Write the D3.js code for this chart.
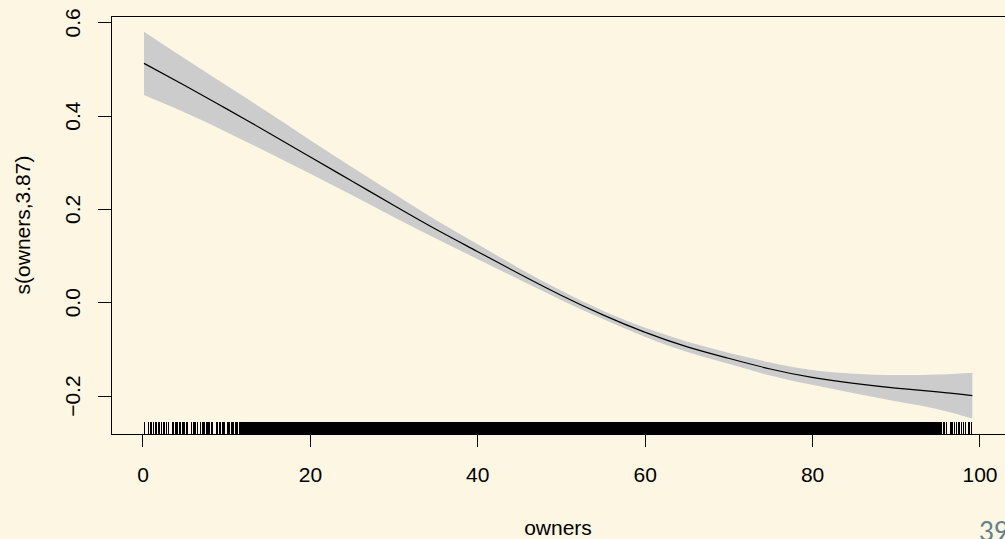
<!DOCTYPE html>
<html>
<head>
<meta charset="utf-8">
<script src="https://cdn.jsdelivr.net/npm/d3@7"></script>
<style>
  html, body { margin: 0; padding: 0; background: #fdf6e3; }
  svg { display: block; }
</style>
</head>
<body>
<svg id="chart" width="1005" height="539"></svg>
<script>
// Smooth term s(owners, 3.87): estimate with its confidence band
const owners = [0.18, 5, 10, 15, 20, 25, 30, 35, 40, 45, 50, 55, 60, 65, 70, 75, 80, 85, 90, 95, 99.15];
const fitValues = [0.512, 0.465, 0.415, 0.364, 0.312, 0.260, 0.208, 0.157, 0.109, 0.061, 0.015, -0.027, -0.064, -0.095, -0.120, -0.143, -0.161, -0.174, -0.184, -0.192, -0.200];
const upperValues = [0.580, 0.523, 0.465, 0.407, 0.348, 0.290, 0.233, 0.177, 0.125, 0.073, 0.025, -0.018, -0.054, -0.084, -0.108, -0.129, -0.145, -0.153, -0.156, -0.155, -0.151];
const lowerValues = [0.444, 0.407, 0.365, 0.321, 0.276, 0.230, 0.183, 0.137, 0.093, 0.049, 0.005, -0.036, -0.074, -0.106, -0.132, -0.157, -0.177, -0.195, -0.212, -0.229, -0.249];

// Observed owners values shown as a rug along the x axis
const rugLow = [0.18, 0.74, 0.90, 1.10, 1.29, 1.53, 1.70, 1.94, 2.09, 2.25, 2.49, 2.66, 2.90, 3.08,
  3.61, 3.76, 3.92, 4.09, 4.24, 4.40, 4.56, 4.72, 4.88, 5.04, 5.20, 5.35,
  5.91, 6.07, 6.24, 6.39, 6.55, 6.95, 7.11, 7.26, 7.43, 7.59, 7.74, 7.91, 8.06, 8.22, 8.39,
  8.86, 9.02, 9.18, 9.34, 9.50, 9.65, 9.82, 10.13, 10.30, 10.45, 10.61, 10.78, 10.93, 11.09, 11.25, 11.41];
const rugMid = [
11.6,11.7,11.8,11.9,
12.0,12.1,12.2,12.3,12.4,12.5,12.6,12.7,12.8,12.9,
13.0,13.1,13.2,13.3,13.4,13.5,13.6,13.7,13.8,13.9,
14.0,14.1,14.2,14.3,14.4,14.5,14.6,14.7,14.8,14.9,
15.0,15.1,15.2,15.3,15.4,15.5,15.6,15.7,15.8,15.9,
16.0,16.1,16.2,16.3,16.4,16.5,16.6,16.7,16.8,16.9,
17.0,17.1,17.2,17.3,17.4,17.5,17.6,17.7,17.8,17.9,
18.0,18.1,18.2,18.3,18.4,18.5,18.6,18.7,18.8,18.9,
19.0,19.1,19.2,19.3,19.4,19.5,19.6,19.7,19.8,19.9,
20.0,20.1,20.2,20.3,20.4,20.5,20.6,20.7,20.8,20.9,
21.0,21.1,21.2,21.3,21.4,21.5,21.6,21.7,21.8,21.9,
22.0,22.1,22.2,22.3,22.4,22.5,22.6,22.7,22.8,22.9,
23.0,23.1,23.2,23.3,23.4,23.5,23.6,23.7,23.8,23.9,
24.0,24.1,24.2,24.3,24.4,24.5,24.6,24.7,24.8,24.9,
25.0,25.1,25.2,25.3,25.4,25.5,25.6,25.7,25.8,25.9,
26.0,26.1,26.2,26.3,26.4,26.5,26.6,26.7,26.8,26.9,
27.0,27.1,27.2,27.3,27.4,27.5,27.6,27.7,27.8,27.9,
28.0,28.1,28.2,28.3,28.4,28.5,28.6,28.7,28.8,28.9,
29.0,29.1,29.2,29.3,29.4,29.5,29.6,29.7,29.8,29.9,
30.0,30.1,30.2,30.3,30.4,30.5,30.6,30.7,30.8,30.9,
31.0,31.1,31.2,31.3,31.4,31.5,31.6,31.7,31.8,31.9,
32.0,32.1,32.2,32.3,32.4,32.5,32.6,32.7,32.8,32.9,
33.0,33.1,33.2,33.3,33.4,33.5,33.6,33.7,33.8,33.9,
34.0,34.1,34.2,34.3,34.4,34.5,34.6,34.7,34.8,34.9,
35.0,35.1,35.2,35.3,35.4,35.5,35.6,35.7,35.8,35.9,
36.0,36.1,36.2,36.3,36.4,36.5,36.6,36.7,36.8,36.9,
37.0,37.1,37.2,37.3,37.4,37.5,37.6,37.7,37.8,37.9,
38.0,38.1,38.2,38.3,38.4,38.5,38.6,38.7,38.8,38.9,
39.0,39.1,39.2,39.3,39.4,39.5,39.6,39.7,39.8,39.9,
40.0,40.1,40.2,40.3,40.4,40.5,40.6,40.7,40.8,40.9,
41.0,41.1,41.2,41.3,41.4,41.5,41.6,41.7,41.8,41.9,
42.0,42.1,42.2,42.3,42.4,42.5,42.6,42.7,42.8,42.9,
43.0,43.1,43.2,43.3,43.4,43.5,43.6,43.7,43.8,43.9,
44.0,44.1,44.2,44.3,44.4,44.5,44.6,44.7,44.8,44.9,
45.0,45.1,45.2,45.3,45.4,45.5,45.6,45.7,45.8,45.9,
46.0,46.1,46.2,46.3,46.4,46.5,46.6,46.7,46.8,46.9,
47.0,47.1,47.2,47.3,47.4,47.5,47.6,47.7,47.8,47.9,
48.0,48.1,48.2,48.3,48.4,48.5,48.6,48.7,48.8,48.9,
49.0,49.1,49.2,49.3,49.4,49.5,49.6,49.7,49.8,49.9,
50.0,50.1,50.2,50.3,50.4,50.5,50.6,50.7,50.8,50.9,
51.0,51.1,51.2,51.3,51.4,51.5,51.6,51.7,51.8,51.9,
52.0,52.1,52.2,52.3,52.4,52.5,52.6,52.7,52.8,52.9,
53.0,53.1,53.2,53.3,53.4,53.5,53.6,53.7,53.8,53.9,
54.0,54.1,54.2,54.3,54.4,54.5,54.6,54.7,54.8,54.9,
55.0,55.1,55.2,55.3,55.4,55.5,55.6,55.7,55.8,55.9,
56.0,56.1,56.2,56.3,56.4,56.5,56.6,56.7,56.8,56.9,
57.0,57.1,57.2,57.3,57.4,57.5,57.6,57.7,57.8,57.9,
58.0,58.1,58.2,58.3,58.4,58.5,58.6,58.7,58.8,58.9,
59.0,59.1,59.2,59.3,59.4,59.5,59.6,59.7,59.8,59.9,
60.0,60.1,60.2,60.3,60.4,60.5,60.6,60.7,60.8,60.9,
61.0,61.1,61.2,61.3,61.4,61.5,61.6,61.7,61.8,61.9,
62.0,62.1,62.2,62.3,62.4,62.5,62.6,62.7,62.8,62.9,
63.0,63.1,63.2,63.3,63.4,63.5,63.6,63.7,63.8,63.9,
64.0,64.1,64.2,64.3,64.4,64.5,64.6,64.7,64.8,64.9,
65.0,65.1,65.2,65.3,65.4,65.5,65.6,65.7,65.8,65.9,
66.0,66.1,66.2,66.3,66.4,66.5,66.6,66.7,66.8,66.9,
67.0,67.1,67.2,67.3,67.4,67.5,67.6,67.7,67.8,67.9,
68.0,68.1,68.2,68.3,68.4,68.5,68.6,68.7,68.8,68.9,
69.0,69.1,69.2,69.3,69.4,69.5,69.6,69.7,69.8,69.9,
70.0,70.1,70.2,70.3,70.4,70.5,70.6,70.7,70.8,70.9,
71.0,71.1,71.2,71.3,71.4,71.5,71.6,71.7,71.8,71.9,
72.0,72.1,72.2,72.3,72.4,72.5,72.6,72.7,72.8,72.9,
73.0,73.1,73.2,73.3,73.4,73.5,73.6,73.7,73.8,73.9,
74.0,74.1,74.2,74.3,74.4,74.5,74.6,74.7,74.8,74.9,
75.0,75.1,75.2,75.3,75.4,75.5,75.6,75.7,75.8,75.9,
76.0,76.1,76.2,76.3,76.4,76.5,76.6,76.7,76.8,76.9,
77.0,77.1,77.2,77.3,77.4,77.5,77.6,77.7,77.8,77.9,
78.0,78.1,78.2,78.3,78.4,78.5,78.6,78.7,78.8,78.9,
79.0,79.1,79.2,79.3,79.4,79.5,79.6,79.7,79.8,79.9,
80.0,80.1,80.2,80.3,80.4,80.5,80.6,80.7,80.8,80.9,
81.0,81.1,81.2,81.3,81.4,81.5,81.6,81.7,81.8,81.9,
82.0,82.1,82.2,82.3,82.4,82.5,82.6,82.7,82.8,82.9,
83.0,83.1,83.2,83.3,83.4,83.5,83.6,83.7,83.8,83.9,
84.0,84.1,84.2,84.3,84.4,84.5,84.6,84.7,84.8,84.9,
85.0,85.1,85.2,85.3,85.4,85.5,85.6,85.7,85.8,85.9,
86.0,86.1,86.2,86.3,86.4,86.5,86.6,86.7,86.8,86.9,
87.0,87.1,87.2,87.3,87.4,87.5,87.6,87.7,87.8,87.9,
88.0,88.1,88.2,88.3,88.4,88.5,88.6,88.7,88.8,88.9,
89.0,89.1,89.2,89.3,89.4,89.5,89.6,89.7,89.8,89.9,
90.0,90.1,90.2,90.3,90.4,90.5,90.6,90.7,90.8,90.9,
91.0,91.1,91.2,91.3,91.4,91.5,91.6,91.7,91.8,91.9,
92.0,92.1,92.2,92.3,92.4,92.5,92.6,92.7,92.8,92.9,
93.0,93.1,93.2,93.3,93.4,93.5,93.6,93.7,93.8,93.9,
94.0,94.1,94.2,94.3,94.4,94.5,94.6,94.7,94.8,94.9,
95.0,95.1,95.2,95.3];
const rugHigh = [95.48, 95.68, 95.88, 96.08, 96.48, 96.63, 96.80, 97.04, 97.28, 97.51, 97.67, 97.91, 98.15, 98.39, 98.63, 98.86, 99.07];

const xTicks = [0, 20, 40, 60, 80, 100];
const yTicks = [-0.2, 0.0, 0.2, 0.4, 0.6];
const xLabel = "owners";
const yLabel = "s(owners,3.87)";
const pageNumber = "39";

const svg = d3.select("#chart");
const W = 1005, H = 539;
const FONT = "'Liberation Sans', Arial, Helvetica, sans-serif";

svg.append("rect").attr("width", W).attr("height", H).attr("fill", "#fdf6e3");

// Plot region: data range padded by 4% on each side
const x = d3.scaleLinear().domain([-3.763, 103.05]).range([111, 1005]);
const y = d3.scaleLinear().domain([-0.2823, 0.6135]).range([434, 16]);

const curve = owners.map((o, i) => ({ o, fit: fitValues[i], lo: lowerValues[i], hi: upperValues[i] }));

// Confidence band
svg.append("path")
  .datum(curve)
  .attr("fill", "#cccccc")
  .attr("stroke", "none")
  .attr("d", d3.area()
    .x(d => x(d.o))
    .y0(d => y(d.lo))
    .y1(d => y(d.hi))
    .curve(d3.curveNatural));

// Fitted smooth
svg.append("path")
  .datum(curve)
  .attr("fill", "none")
  .attr("stroke", "#000")
  .attr("stroke-width", 1.2)
  .attr("d", d3.line()
    .x(d => x(d.o))
    .y(d => y(d.fit))
    .curve(d3.curveNatural));

// Rug
const rugValues = rugLow.concat(rugMid, rugHigh);
const rugLen = 12.5;
svg.append("g")
  .attr("shape-rendering", "crispEdges")
  .selectAll("line")
  .data(rugValues)
  .join("line")
  .attr("x1", d => x(d)).attr("x2", d => x(d))
  .attr("y1", y.range()[0]).attr("y2", y.range()[0] - rugLen)
  .attr("stroke", "#000")
  .attr("stroke-width", 1);

// Frame around the plot region
svg.append("rect")
  .attr("x", x.range()[0]).attr("y", y.range()[1])
  .attr("width", x.range()[1] - x.range()[0])
  .attr("height", y.range()[0] - y.range()[1])
  .attr("fill", "none")
  .attr("stroke", "#000")
  .attr("stroke-width", 1)
  .attr("shape-rendering", "crispEdges");

// X axis
const gx = svg.append("g")
  .attr("transform", `translate(0,${y.range()[0]})`)
  .call(d3.axisBottom(x).tickValues(xTicks).tickSize(13).tickFormat(d3.format("d")));
gx.select(".domain").remove();
gx.selectAll(".tick line").attr("stroke", "#000").attr("shape-rendering", "crispEdges");
gx.selectAll(".tick text")
  .attr("y", 48).attr("dy", null)
  .attr("fill", "#000")
  .style("font-family", FONT).style("font-size", "21px");

// Y axis with rotated labels
const gy = svg.append("g")
  .attr("transform", `translate(${x.range()[0]},0)`)
  .call(d3.axisLeft(y).tickValues(yTicks).tickSize(13).tickFormat(d3.format(".1f")));
gy.select(".domain").remove();
gy.selectAll(".tick line").attr("stroke", "#000").attr("shape-rendering", "crispEdges");
gy.selectAll(".tick text")
  .attr("x", null).attr("dy", null)
  .attr("transform", "translate(-31,0) rotate(-90)")
  .attr("text-anchor", "middle")
  .attr("fill", "#000")
  .style("font-family", FONT).style("font-size", "21px");

// Axis titles
svg.append("text")
  .attr("x", (x.range()[0] + x.range()[1]) / 2).attr("y", 535)
  .attr("text-anchor", "middle")
  .style("font-family", FONT).style("font-size", "21px")
  .attr("fill", "#000")
  .text(xLabel);

svg.append("text")
  .attr("transform", `translate(30,${(y.range()[0] + y.range()[1]) / 2}) rotate(-90)`)
  .attr("text-anchor", "middle")
  .style("font-family", FONT).style("font-size", "21px")
  .attr("fill", "#000")
  .text(yLabel);

// Slide page number
svg.append("text")
  .attr("x", 979).attr("y", 541)
  .style("font-family", "Lato, 'Open Sans', sans-serif").style("font-size", "26px")
  .attr("fill", "#637f8c")
  .text(pageNumber);
</script>
</body>
</html>
